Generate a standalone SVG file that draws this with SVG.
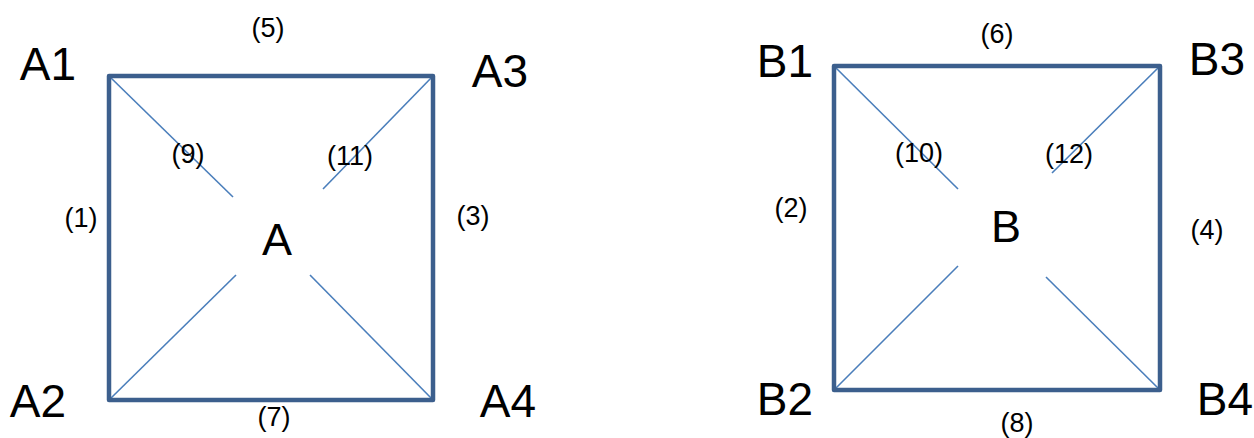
<svg xmlns="http://www.w3.org/2000/svg" width="1254" height="438" viewBox="0 0 1254 438">
<style>
.sq{fill:none;stroke:#3C5F8D;stroke-width:4.5;stroke-linejoin:round}
.dg{stroke:#4A7EBB;stroke-width:1.6;fill:none}
.big{font-family:"Liberation Sans",Arial,sans-serif;font-size:46px;fill:#000;text-anchor:middle}
.ctr{font-family:"Liberation Sans",Arial,sans-serif;font-size:45px;fill:#000;text-anchor:middle}
.sm{font-family:"Liberation Sans",Arial,sans-serif;font-size:27px;fill:#000;text-anchor:middle}
</style>
<rect width="1254" height="438" fill="#fff"/>
<g id="connectors">
<g id="diagA">
<line class="dg" x1="109" y1="76" x2="233" y2="197"/>
<line class="dg" x1="433" y1="76" x2="323" y2="189"/>
<line class="dg" x1="109" y1="400" x2="236" y2="275"/>
<line class="dg" x1="433" y1="400" x2="310" y2="275"/>
</g>
<g id="diagB">
<line class="dg" x1="834" y1="66" x2="958" y2="189"/>
<line class="dg" x1="1160" y1="66" x2="1052" y2="173"/>
<line class="dg" x1="834" y1="390" x2="958" y2="266"/>
<line class="dg" x1="1160" y1="390" x2="1046" y2="277"/>
</g>
</g>
<g id="squareA">
<rect class="sq" x="109" y="76" width="324" height="324"/>
<text class="ctr" x="277" y="255">A</text>
</g>
<g id="squareB">
<rect class="sq" x="834" y="66" width="326" height="324"/>
<text class="ctr" x="1006" y="242">B</text>
</g>
<g id="A1"><text class="big" x="48" y="80">A1</text></g>
<g id="A3"><text class="big" x="500" y="87">A3</text></g>
<g id="A2"><text class="big" x="38" y="417">A2</text></g>
<g id="A4"><text class="big" x="508" y="417">A4</text></g>
<g id="B1"><text class="big" x="785" y="77">B1</text></g>
<g id="B3"><text class="big" x="1217" y="75">B3</text></g>
<g id="B2"><text class="big" x="785" y="415">B2</text></g>
<g id="B4"><text class="big" x="1225" y="415">B4</text></g>
<g id="labels">
<text class="sm" x="268" y="37">(5)</text>
<text class="sm" x="188" y="163">(9)</text>
<text class="sm" x="350" y="165">(11)</text>
<text class="sm" x="81" y="227">(1)</text>
<text class="sm" x="473" y="225">(3)</text>
<text class="sm" x="274" y="426">(7)</text>
<text class="sm" x="997" y="43">(6)</text>
<text class="sm" x="919" y="162">(10)</text>
<text class="sm" x="1069" y="163">(12)</text>
<text class="sm" x="791" y="217">(2)</text>
<text class="sm" x="1207" y="239">(4)</text>
<text class="sm" x="1017" y="432">(8)</text>
</g>
</svg>
